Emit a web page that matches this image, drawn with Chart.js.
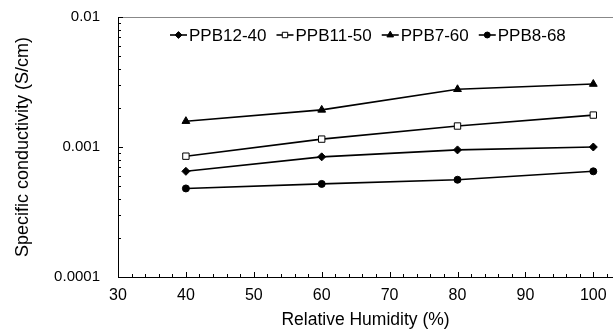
<!DOCTYPE html>
<html>
<head>
<meta charset="utf-8">
<script src="https://cdn.jsdelivr.net/npm/chart.js@4"></script>
<style>
  html, body { margin: 0; padding: 0; background: #fff; }
  #wrap { width: 613px; height: 333px; }
</style>
</head>
<body>
<div id="wrap"><canvas id="chart" width="613" height="333"></canvas></div>
<script>
// Relative humidity (%) where samples were measured
const humidity = [40, 60, 80, 100];

// Specific conductivity (S/cm) per membrane
const ppb12_40 = [0.00065, 0.00084, 0.00095, 0.00100];
const ppb11_50 = [0.00085, 0.00115, 0.00145, 0.00176];
const ppb7_60  = [0.00158, 0.00193, 0.00278, 0.00305];
const ppb8_68  = [0.00048, 0.00052, 0.00056, 0.00065];

const seriesNames = ['PPB12-40', 'PPB11-50', 'PPB7-60', 'PPB8-68'];

const xTicks = [30, 40, 50, 60, 70, 80, 90, 100];
const yTicks = [0.0001, 0.001, 0.01];

const FONT = '"Liberation Sans", Arial, sans-serif';

function pts(vals) {
    return vals.map((v, i) => ({ x: humidity[i], y: v }));
}

function makeSet(label, vals, style, radius, bg) {
    return {
        label: label,
        data: pts(vals),
        borderColor: '#000',
        borderWidth: 1.6,
        pointStyle: style,
        pointRadius: radius,
        pointBackgroundColor: bg,
        pointBorderColor: '#000',
        pointBorderWidth: 1,
        tension: 0
    };
}

// no extra room for labels hanging past the plot edges
function noOverhang(s) {
    s.paddingTop = 0;
    s.paddingBottom = 0;
    s.paddingLeft = 0;
    s.paddingRight = 0;
}

// inside tick marks, minor ticks, top frame line and the legend
const decorations = {
    id: 'decorations',
    afterDraw(c) {
        const ctx = c.ctx;
        const a = c.chartArea;
        const xs = c.scales.x, ys = c.scales.y;
        ctx.save();
        ctx.lineWidth = 1;

        // top frame
        ctx.strokeStyle = '#888';
        ctx.beginPath();
        ctx.moveTo(a.left, a.top + 0.5);
        ctx.lineTo(a.right, a.top + 0.5);
        ctx.stroke();

        // x ticks every 2, major every 10
        ctx.strokeStyle = '#000';
        ctx.beginPath();
        for (let v = 30; v <= 102; v += 2) {
            const px = Math.round(xs.getPixelForValue(v)) + 0.5;
            const len = v % 10 === 0 ? 5 : 3;
            ctx.moveTo(px, a.bottom);
            ctx.lineTo(px, a.bottom - len);
        }
        // y ticks: decades plus 2..9 minors
        for (let e = -4; e <= -2; e++) {
            for (let m = 1; m <= 9; m++) {
                const v = m * Math.pow(10, e);
                if (v > 0.01 + 1e-12) break;
                const py = Math.round(ys.getPixelForValue(v)) + 0.5;
                const len = m === 1 ? 5 : 3;
                ctx.moveTo(a.left, py);
                ctx.lineTo(a.left + len, py);
            }
        }
        ctx.stroke();

        // legend
        ctx.font = '17px ' + FONT;
        ctx.textBaseline = 'middle';
        ctx.fillStyle = '#000';
        const ly = a.top + 18;
        const widths = c.data.datasets.map(d => ctx.measureText(d.label).width);
        let x = 170;
        c.data.datasets.forEach((d, i) => {
            ctx.strokeStyle = '#000';
            ctx.lineWidth = 1.6;
            ctx.beginPath();
            ctx.moveTo(x, ly);
            ctx.lineTo(x + 17, ly);
            ctx.stroke();
            ctx.lineWidth = 1;
            ctx.fillStyle = d.pointBackgroundColor;
            Chart.helpers.drawPoint(ctx, {
                pointStyle: d.pointStyle,
                radius: d.pointRadius * 0.85,
                borderWidth: 1,
                rotation: 0
            }, x + 8.5, ly);
            ctx.fillStyle = '#000';
            ctx.fillText(d.label, x + 19, ly + 1);
            x += 19 + widths[i] + 10;
        });
        ctx.restore();
    }
};

new Chart(document.getElementById('chart'), {
    type: 'line',
    data: {
        datasets: [
            makeSet(seriesNames[0], ppb12_40, 'rectRot', 4, '#000'),
            makeSet(seriesNames[1], ppb11_50, 'rect', 4.5, '#fff'),
            makeSet(seriesNames[2], ppb7_60, 'triangle', 4.5, '#000'),
            makeSet(seriesNames[3], ppb8_68, 'circle', 3.5, '#000')
        ]
    },
    options: {
        responsive: false,
        animation: false,
        layout: { autoPadding: false, padding: { top: 17, right: 0, left: 0, bottom: 0 } },
        plugins: {
            legend: { display: false },
            tooltip: { enabled: false }
        },
        scales: {
            x: {
                type: 'linear',
                min: 30,
                max: 102.9,
                afterBuildTicks: s => { s.ticks = xTicks.map(v => ({ value: v })); },
                afterFit: s => { s.height = 56; noOverhang(s); },
                grid: { display: false, drawTicks: false },
                border: { display: true, color: '#000', width: 1 },
                ticks: {
                    color: '#000',
                    padding: 9,
                    maxRotation: 0,
                    font: { family: FONT, size: 16 }
                },
                title: {
                    display: true,
                    text: 'Relative Humidity (%)',
                    color: '#000',
                    padding: { top: 0, bottom: 2 },
                    font: { family: FONT, size: 17.5 }
                }
            },
            y: {
                type: 'logarithmic',
                min: 0.0001,
                max: 0.01,
                afterBuildTicks: s => { s.ticks = yTicks.map(v => ({ value: v })); },
                afterFit: s => { s.width = 118; noOverhang(s); },
                grid: { display: false, drawTicks: false },
                border: { display: true, color: '#000', width: 1 },
                ticks: {
                    color: '#000',
                    padding: 18,
                    font: { family: FONT, size: 15 },
                    callback: v => String(v)
                },
                title: {
                    display: true,
                    text: 'Specific conductivity (S/cm)',
                    color: '#000',
                    padding: { top: 12, bottom: 0 },
                    font: { family: FONT, size: 18 }
                }
            }
        }
    },
    plugins: [decorations]
});
</script>
</body>
</html>
